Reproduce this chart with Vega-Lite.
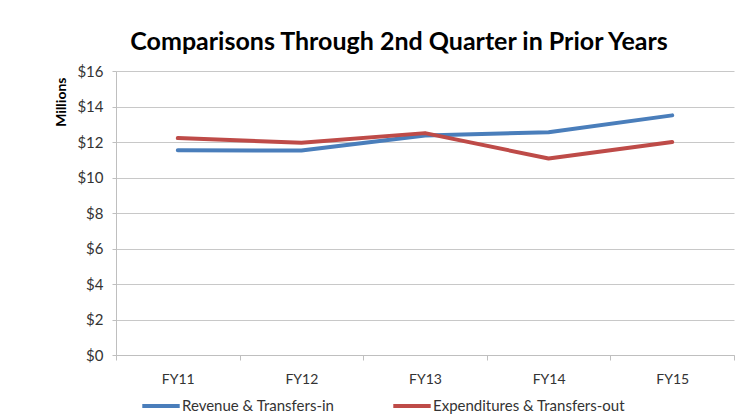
{
  "$schema": "https://vega.github.io/schema/vega-lite/v6.json",
  "width": 618,
  "height": 284,
  "autosize": {"type": "none"},
  "padding": {"left": 116, "top": 71, "right": 17, "bottom": 61},
  "background": "white",
  "title": {
    "text": "Comparisons Through 2nd Quarter in Prior Years",
    "font": "Lato",
    "fontSize": 25,
    "fontWeight": "bold",
    "color": "#000000",
    "anchor": "middle",
    "dx": -26,
    "offset": 9
  },
  "data": {
    "values": [
      {"year": "FY11", "series": "Revenue & Transfers-in", "value": 11.53},
      {"year": "FY12", "series": "Revenue & Transfers-in", "value": 11.52},
      {"year": "FY13", "series": "Revenue & Transfers-in", "value": 12.37},
      {"year": "FY14", "series": "Revenue & Transfers-in", "value": 12.55},
      {"year": "FY15", "series": "Revenue & Transfers-in", "value": 13.5},
      {"year": "FY11", "series": "Expenditures & Transfers-out", "value": 12.22},
      {"year": "FY12", "series": "Expenditures & Transfers-out", "value": 11.96},
      {"year": "FY13", "series": "Expenditures & Transfers-out", "value": 12.5},
      {"year": "FY14", "series": "Expenditures & Transfers-out", "value": 11.07},
      {"year": "FY15", "series": "Expenditures & Transfers-out", "value": 12.0}
    ]
  },
  "mark": {"type": "line", "strokeWidth": 4, "strokeCap": "round", "strokeJoin": "round"},
  "encoding": {
    "x": {
      "field": "year",
      "type": "nominal",
      "sort": ["FY11", "FY12", "FY13", "FY14", "FY15"],
      "scale": {"type": "band", "paddingInner": 0, "paddingOuter": 0},
      "axis": {
        "title": null,
        "labelAngle": 0,
        "tickBand": "extent",
        "labelFont": "Lato",
        "labelFontSize": 14,
        "labelColor": "#333333",
        "labelPadding": 12,
        "domainColor": "#bfbfbf",
        "tickColor": "#bfbfbf",
        "tickSize": 5,
        "grid": false
      }
    },
    "y": {
      "field": "value",
      "type": "quantitative",
      "scale": {"domain": [0, 16]},
      "axis": {
        "title": "Millions",
        "titleFont": "Lato",
        "titleFontSize": 14,
        "titleFontWeight": "bold",
        "titleColor": "#000000",
        "titleAngle": 270,
        "titleAlign": "right",
        "titleBaseline": "middle",
        "titleX": -55,
        "titleY": 6,
        "values": [0, 2, 4, 6, 8, 10, 12, 14, 16],
        "format": "$,.0f",
        "labelFont": "Lato",
        "labelFontSize": 15,
        "labelColor": "#333333",
        "labelPadding": 9,
        "domainColor": "#bfbfbf",
        "tickColor": "#bfbfbf",
        "tickSize": 4,
        "gridColor": "#c8c8c8",
        "gridWidth": 1
      }
    },
    "color": {
      "field": "series",
      "type": "nominal",
      "scale": {
        "domain": ["Revenue & Transfers-in", "Expenditures & Transfers-out"],
        "range": ["#4A7EBB", "#BE4B48"]
      },
      "legend": {
        "title": null,
        "orient": "none",
        "legendX": 24,
        "legendY": 314,
        "direction": "horizontal",
        "symbolType": "stroke",
        "symbolSize": 1400,
        "symbolStrokeWidth": 4,
        "labelFont": "Lato",
        "labelFontSize": 15,
        "labelColor": "#333333",
        "labelOffset": 0,
        "labelLimit": 400,
        "columnPadding": 50
      }
    }
  },
  "config": {
    "view": {"stroke": null}
  }
}
